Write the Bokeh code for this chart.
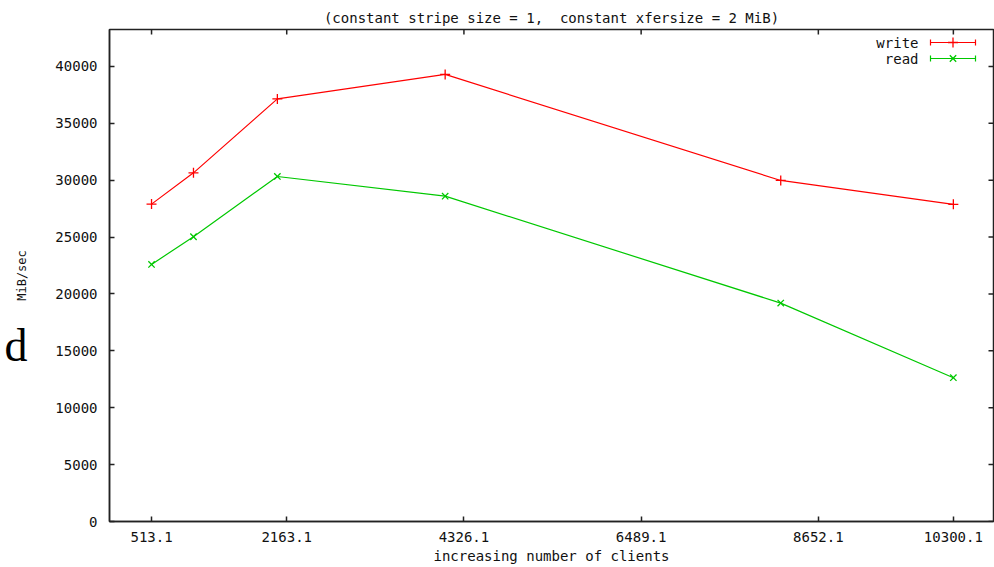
from bokeh.plotting import figure
from bokeh.models import (Range1d, FixedTicker, Whisker, TeeHead, Label,
                          ColumnDataSource, LinearAxis)
from bokeh.embed import file_html
from bokeh.resources import INLINE

# ---- data ----
clients = [513, 1025, 2049, 4097, 8193, 10300]
write_mibs = [27900, 30650, 37150, 39300, 29980, 27880]
read_mibs = [22600, 25030, 30330, 28600, 19200, 12640]
x_tick_values = [513.1, 2163.1, 4326.1, 6489.1, 8652.1, 10300.1]
x_tick_labels = ["513.1", "2163.1", "4326.1", "6489.1", "8652.1", "10300.1"]
y_tick_values = [0, 5000, 10000, 15000, 20000, 25000, 30000, 35000, 40000]
series_names = ["write", "read"]

X_LO, X_HI = 0, 10790
Y_LO, Y_HI = 0, 43250
FW, FH = 884, 492

MONO = "DejaVu Sans Mono"
RED = "#ff0000"
GREEN = "#00c800"
INK = "#222222"

p = figure(frame_width=FW, frame_height=FH, output_backend="svg",
           toolbar_location=None, x_range=Range1d(X_LO, X_HI),
           y_range=Range1d(Y_LO, Y_HI),
           min_border_left=109, min_border_right=1, min_border_top=29,
           min_border_bottom=0,
           title="(constant stripe size = 1,\u00a0 constant xfersize = 2 MiB)")
p.background_fill_color = "white"
p.border_fill_color = "white"
p.outline_line_color = INK
p.outline_line_width = 1.5
p.grid.visible = False

p.title.align = "center"
p.title.text_font = MONO
p.title.text_font_size = "14px"
p.title.text_font_style = "normal"
p.title.text_color = "#111111"
p.title.standoff = 8
p.title.offset = 0

def style_axis(ax):
    ax.axis_line_color = INK
    ax.axis_line_width = 1.5
    ax.major_tick_in = 5
    ax.major_tick_out = 0
    ax.major_tick_line_color = INK
    ax.major_tick_line_width = 1.5
    ax.minor_tick_line_color = None
    ax.major_label_text_font = MONO
    ax.major_label_text_font_size = "14px"
    ax.major_label_text_color = "#111111"
    ax.axis_label_text_font = MONO
    ax.axis_label_text_font_style = "normal"
    ax.axis_label_text_color = "#111111"

xticker = FixedTicker(ticks=x_tick_values)
yticker = FixedTicker(ticks=y_tick_values)
xlabels = {v: s for v, s in zip(x_tick_values, x_tick_labels)}

xa = p.xaxis[0]
xa.ticker = xticker
xa.major_label_overrides = xlabels
style_axis(xa)
xa.major_label_standoff = 10
xa.axis_label = "increasing number of clients"
xa.axis_label_text_font_size = "14px"
xa.axis_label_standoff = 3

ya = p.yaxis[0]
ya.ticker = yticker
style_axis(ya)
ya.major_label_standoff = 12

# ---- helpers: frame pixel -> data (for decorations only) ----
def fx(px):
    return X_LO + px / FW * (X_HI - X_LO)

def fy(px_from_top):
    return Y_HI - px_from_top / FH * (Y_HI - Y_LO)

# outer left axis: carries the stray scanned "d" and the y axis title
d_pos = fy(316)
outer = LinearAxis(ticker=FixedTicker(ticks=[d_pos]))
outer.major_label_overrides = {d_pos: "d"}
outer.axis_line_color = None
outer.major_tick_line_color = None
outer.minor_tick_line_color = None
outer.major_tick_in = 0
outer.major_tick_out = 0
outer.major_label_text_font = "Liberation Serif"
outer.major_label_text_font_size = "46px"
outer.major_label_text_color = "#000000"
outer.major_label_standoff = 25
outer.axis_label = "MiB/sec"
outer.axis_label_text_font = MONO
outer.axis_label_text_font_style = "normal"
outer.axis_label_text_font_size = "12px"
outer.axis_label_text_color = "#111111"
outer.axis_label_standoff = -27
p.add_layout(outer, "left")

# mirrored ticks on top and right (gnuplot border tics)
tick_dx = fx(5) - fx(0)
tick_dy = fy(0) - fy(5)
p.segment(x0=x_tick_values, x1=x_tick_values,
          y0=[Y_HI] * len(x_tick_values),
          y1=[Y_HI - tick_dy] * len(x_tick_values),
          line_color=INK, line_width=1.5)
p.segment(x0=[X_HI] * len(y_tick_values),
          x1=[X_HI - tick_dx] * len(y_tick_values),
          y0=y_tick_values, y1=y_tick_values,
          line_color=INK, line_width=1.5)

# ---- data series ----
p.line(clients, write_mibs, line_color=RED, line_width=1.2)
p.scatter(clients, write_mibs, marker="cross", size=10, line_color=RED,
          line_width=1.3)
p.line(clients, read_mibs, line_color=GREEN, line_width=1.2)
p.scatter(clients, read_mibs, marker="x", size=9, line_color=GREEN,
          line_width=1.3)

# ---- gnuplot style key (placed by fractions of the frame) ----
key_rows = [(series_names[0], RED, "cross", 10, 13),
            (series_names[1], GREEN, "x", 9, 29)]
for name, col, mk, sz, row in key_rows:
    yk = fy(row)
    p.add_layout(Label(x=fx(809), y=yk, text=name, text_align="right",
                       text_baseline="middle", text_font=MONO,
                       text_font_size="14px", text_color="#111111"))
    src = ColumnDataSource(dict(base=[yk], lower=[fx(821)], upper=[fx(866)]))
    w = Whisker(source=src, base="base", lower="lower", upper="upper",
                dimension="width", line_color=col, line_width=1.2,
                lower_head=TeeHead(size=6, line_color=col, line_width=1.2),
                upper_head=TeeHead(size=6, line_color=col, line_width=1.2))
    p.add_layout(w)
    p.scatter([fx(843.5)], [yk], marker=mk, size=sz, line_color=col,
              line_width=1.3)

open("out.html", "w").write(file_html(p, INLINE))
